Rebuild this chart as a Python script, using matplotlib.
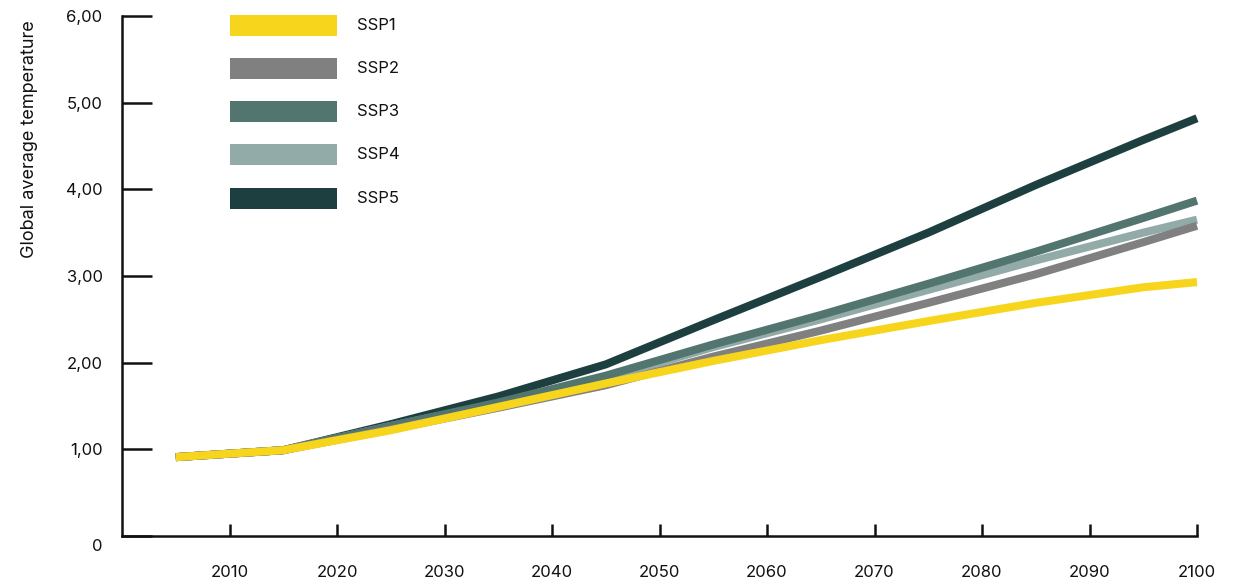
import numpy as np
from matplotlib import pyplot as plt
from matplotlib.patches import Rectangle
from matplotlib.transforms import ScaledTranslation

plt.rcParams['font.family'] = ['Inter', 'DejaVu Sans']

years = [2005, 2015, 2025, 2035, 2045, 2055, 2065, 2075, 2085, 2095, 2100]
ssp1 = [0.91, 0.99, 1.22, 1.49, 1.76, 2.02, 2.26, 2.48, 2.69, 2.87, 2.93]
ssp2 = [0.91, 0.99, 1.23, 1.48, 1.74, 2.07, 2.37, 2.69, 3.02, 3.39, 3.58]
ssp3 = [0.91, 0.99, 1.27, 1.54, 1.85, 2.21, 2.55, 2.91, 3.28, 3.67, 3.87]
ssp4 = [0.91, 0.99, 1.27, 1.53, 1.82, 2.18, 2.50, 2.84, 3.18, 3.50, 3.65]
ssp5 = [0.91, 0.99, 1.29, 1.61, 1.98, 2.49, 2.99, 3.50, 4.05, 4.57, 4.82]

names = ['SSP1', 'SSP2', 'SSP3', 'SSP4', 'SSP5']
colors = ['#F7D51D', '#808080', '#53756F', '#92ABA8', '#1E3F40']
series = [ssp1, ssp2, ssp3, ssp4, ssp5]

x_ticks = [2010, 2020, 2030, 2040, 2050, 2060, 2070, 2080, 2090, 2100]
y_ticks = [0, 1, 2, 3, 4, 5, 6]
y_labels = ['0', '1,00', '2,00', '3,00', '4,00', '5,00', '6,00']

W, H = 1237, 584
fig = plt.figure(figsize=(W / 100, H / 100), dpi=100)
ax = fig.add_axes([122 / W, (H - 536) / H, (1197 - 122) / W, (536 - 16) / H])

# draw order: darkest first, yellow on top
for i in [4, 2, 3, 1, 0]:
    ax.plot(years, series[i], color=colors[i], lw=5.8, solid_capstyle='butt',
            solid_joinstyle='miter', clip_on=False, zorder=3 + (4 - i))

ax.set_xlim(2000, 2100)
ax.set_ylim(0, 6)
for s in ['top', 'right']:
    ax.spines[s].set_visible(False)
for s in ['left', 'bottom']:
    ax.spines[s].set_linewidth(1.8)
    ax.spines[s].set_color('#111111')

ax.set_xticks(x_ticks)
ax.set_xticklabels([str(t) for t in x_ticks])
ax.set_yticks(y_ticks)
ax.set_yticklabels(y_labels)
ax.tick_params(axis='y', direction='in', length=21.6, width=1.8, pad=14,
               labelsize=12, colors='#111111')
ax.tick_params(axis='x', direction='in', length=8.6, width=1.8, pad=21,
               labelsize=12, colors='#111111')

# the "0" label sits a bit lower than its tick
lab0 = ax.get_yticklabels()[0]
lab0.set_transform(lab0.get_transform() + ScaledTranslation(0, -9 / 100, fig.dpi_scale_trans))

fig.text(30 / W, 1 - 139 / H, 'Global average temperature', rotation=90,
         ha='center', va='center', fontsize=13, color='#111111')

# legend
for k, (nm, c) in enumerate(zip(names, colors)):
    yc = 25 + 43.3 * k
    fig.add_artist(Rectangle((230 / W, 1 - (yc + 10.5) / H), 107 / W, 21 / H,
                             transform=fig.transFigure, color=c, lw=0))
    fig.text(357 / W, 1 - yc / H, nm, ha='left', va='center', fontsize=12,
             color='#111111')

fig.savefig('out.png', dpi=100)
